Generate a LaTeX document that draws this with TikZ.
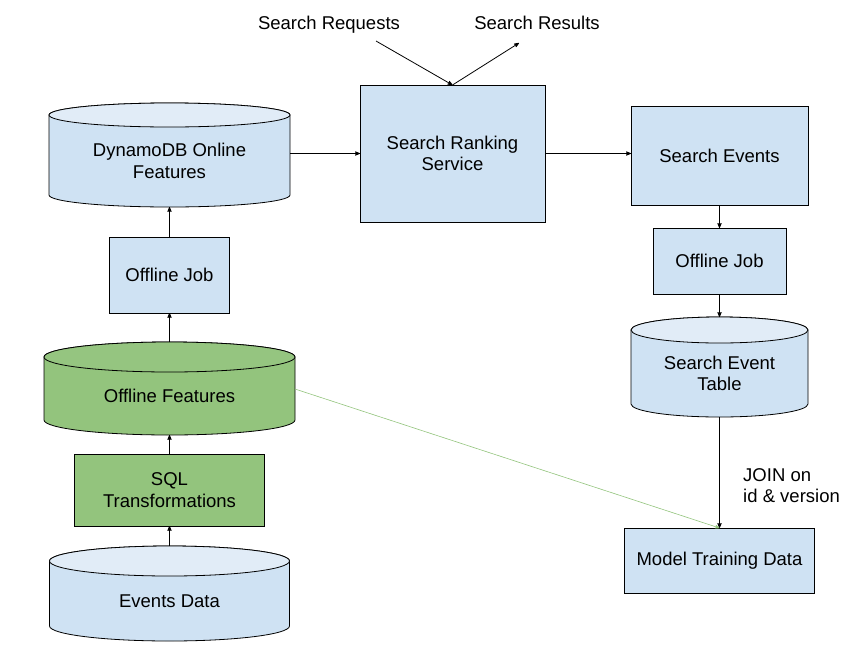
\documentclass[tikz,border=0pt]{standalone}
\usepackage{fontspec}
\setmainfont{Liberation Sans}
\usetikzlibrary{arrows,positioning,backgrounds}
\definecolor{paleblue}{HTML}{CFE2F3}
\definecolor{paletop}{HTML}{E1ECF7}
\definecolor{sqlgreen}{HTML}{93C47D}
\definecolor{greentop}{HTML}{95C580}
\tikzset{
    %Define standard arrow tip
    >=stealth',
    %Define style for boxes
    stage/.style={
           rectangle,
           draw=black, line width=0.8pt,
           fill=paleblue,
           inner sep=0pt, outer sep=0pt,
           align=center},
    %Define style for the body of a data store
    store/.style={
           rectangle,
           inner sep=0pt, outer sep=0pt,
           align=center},
    %Define outline of a data store
    cylline/.style={draw=black, line width=0.8pt},
    % Define arrow style
    pil/.style={
           ->,
           line width=0.8pt}
}
% data store outline: node, x radius, y radius, body fill, top fill
\newcommand{\drawcyl}[5]{%
  \draw[cylline, fill=#4] (#1.north west) -- ([yshift=#3pt]#1.south west)
     arc[start angle=180, end angle=360, x radius=#2pt, y radius=#3pt]
     -- (#1.north east)
     arc[start angle=0, end angle=180, x radius=#2pt, y radius=#3pt] -- cycle;
  \draw[cylline, fill=#5] (#1.north) ellipse[x radius=#2pt, y radius=#3pt];
}

\begin{document}
\begin{tikzpicture}[x=1pt,y=-1pt,font=\fontsize{18.5}{21.5}\selectfont]
\useasboundingbox (0,0) rectangle (854,646);

% left column
\node[store, minimum width=241pt, minimum height=92pt] (dyn) at (169.5,161) {DynamoDB Online\\Features};
\node[stage, minimum width=120pt, minimum height=76pt, below=30pt of dyn] (offjobL) {Offline Job};
\node[store, minimum width=251pt, minimum height=78pt, below=44pt of offjobL] (offfeat) {Offline Features};
\node[stage, fill=sqlgreen, minimum width=190pt, minimum height=72pt, below=19pt of offfeat] (sql) {SQL\\Transformations};
\node[store, minimum width=240pt, minimum height=80pt, below=35pt of sql] (events) {Events Data};

% service in the middle
\node[stage, minimum width=185pt, minimum height=137pt] (rank) at (452.5,153.5) {Search Ranking\\Service};
\node[anchor=base] (req) at (329,29) {Search Requests};
\node[anchor=base] (res) at (537,29) {Search Results};
\coordinate (reqend) at (376,41);
\coordinate (resend) at (519,43);

% right column
\node[stage, minimum width=177pt, minimum height=99pt] (sevents) at (719.5,155.5) {Search Events};
\node[stage, minimum width=133pt, minimum height=66pt, below=23pt of sevents] (offjobR) {Offline Job};
\node[store, minimum width=177pt, minimum height=87pt, below=36pt of offjobR] (table) {Search Event\\Table};
\node[stage, minimum width=190pt, minimum height=65pt, below=111pt of table] (model) {Model Training Data};

\begin{scope}[on background layer]
  \drawcyl{dyn}{120.5}{12}{paleblue}{paletop}
  \drawcyl{offfeat}{125.5}{15}{sqlgreen}{greentop}
  \drawcyl{events}{120}{15}{paleblue}{paletop}
  \drawcyl{table}{88.5}{13}{paleblue}{paletop}
\end{scope}

\draw[pil] (offjobL.north) -- (dyn.south);
\draw[pil] ([yshift=15pt]offfeat.north) -- (offjobL.south);
\draw[pil] (sql.north) -- (offfeat.south);
\draw[pil] ([yshift=15pt]events.north) -- (sql.south);

\draw[pil] (reqend) -- (rank.north);
\draw[pil] (rank.north) -- (resend);
\draw[pil] (dyn.east |- rank.west) -- (rank.west);
\draw[pil] (rank.east) -- (rank.east -| sevents.west);

\draw[pil] (sevents.south) -- (offjobR.north);
\draw[pil] (offjobR.south) -- ([yshift=13pt]table.north);
\draw[pil] (table.south) -- node[pos=0.62, anchor=west, xshift=20pt, align=left] (join) {JOIN on\\id \& version} (model.north);
\draw[pil, draw=sqlgreen, line width=0.6pt] ([yshift=7pt]offfeat.east) -- (model.north);

\end{tikzpicture}
\end{document}
